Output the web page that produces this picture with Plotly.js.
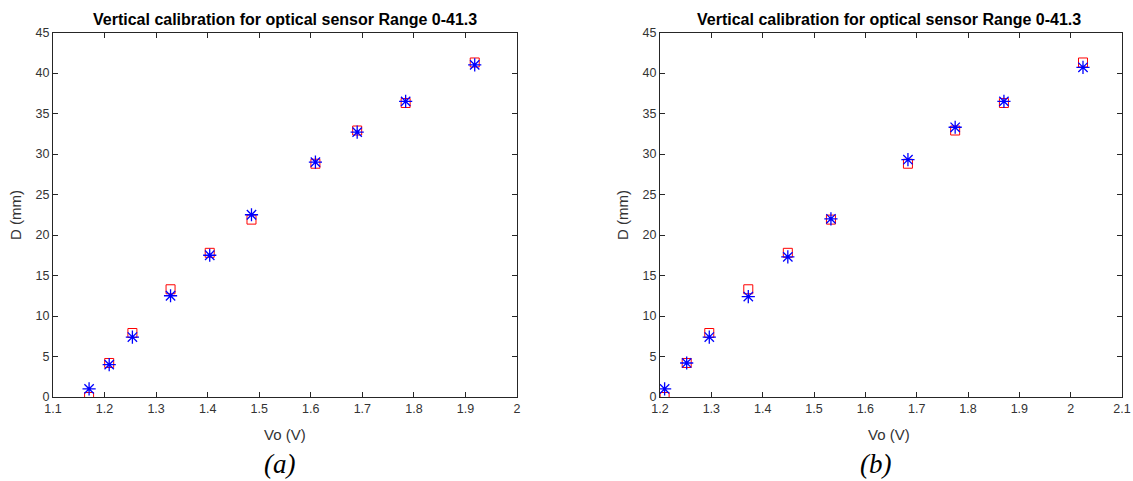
<!DOCTYPE html>
<html>
<head>
<meta charset="utf-8">
<script src="https://cdn.plot.ly/plotly-3.0.1.min.js"></script>
<style>html,body{margin:0;padding:0;background:#fff;}#chart{width:1133px;height:481px;}</style>
</head>
<body>
<div id="chart"></div>
<script>
// Panel (a)
const voA = [1.170, 1.209, 1.254, 1.328, 1.404, 1.485, 1.609, 1.690, 1.784, 1.918];
const refA = [0, 4.2, 7.9, 13.3, 17.8, 21.9, 28.8, 32.9, 36.3, 41.3];
const measA = [1.0, 4.0, 7.4, 12.5, 17.5, 22.5, 29.0, 32.7, 36.5, 41.0];
// Panel (b)
const voB = [1.209, 1.252, 1.296, 1.372, 1.449, 1.533, 1.683, 1.775, 1.870, 2.024];
const refB = [0, 4.2, 7.9, 13.3, 17.8, 21.9, 28.8, 32.9, 36.3, 41.3];
const measB = [1.0, 4.2, 7.4, 12.4, 17.3, 22.0, 29.3, 33.3, 36.5, 40.7];

const titleText = 'Vertical calibration for optical sensor Range 0-41.3';
const xLabel = 'Vo (V)';
const yLabel = 'D (mm)';
const captions = ['(a)', '(b)'];

const red = '#ff0000', blue = '#0000ff';
function sq(x, y, xa, ya) {
  return {x: x, y: y, xaxis: xa, yaxis: ya, type: 'scatter', mode: 'markers', showlegend: false,
    marker: {symbol: 'square-open', size: 9, color: red, line: {width: 1, color: red}}};
}
function ast(x, y, xa, ya) {
  return {x: x, y: y, xaxis: xa, yaxis: ya, type: 'scatter', mode: 'markers', showlegend: false,
    marker: {symbol: 'asterisk-open', size: 11, color: blue, line: {width: 1.3, color: blue}}};
}
const data = [
  sq(voA, refA, 'x', 'y'), ast(voA, measA, 'x', 'y'),
  sq(voB, refB, 'x2', 'y2'), ast(voB, measB, 'x2', 'y2')
];

const sans = 'Liberation Sans, Arial, sans-serif';
const tickFont = {family: sans, size: 12.5, color: '#333333'};
const labelFont = {family: sans, size: 15, color: '#333333'};
function xax(range, dom, anchor) {
  return {domain: dom, range: range, dtick: 0.1, tick0: 1.1, anchor: anchor,
    ticks: 'inside', ticklen: 5, tickcolor: '#262626', mirror: 'ticks', showline: true,
    linecolor: '#262626', linewidth: 1, showgrid: false, zeroline: false, tickfont: tickFont};
}
function yax(dom, anchor) {
  return {domain: dom, range: [0, 45], dtick: 5, anchor: anchor,
    ticks: 'inside', ticklen: 5, tickcolor: '#262626', mirror: 'ticks', showline: true,
    linecolor: '#262626', linewidth: 1, showgrid: false, zeroline: false, tickfont: tickFont};
}
const H = 481, W = 1133;
const yDom = [1 - 397 / H, 1 - 32.5 / H];
function ann(text, px, py, font, angle) {
  return {text: text, xref: 'paper', yref: 'paper', x: px / W, y: 1 - py / H, showarrow: false,
    xanchor: 'center', yanchor: 'middle', font: font, textangle: angle || 0};
}
const titleFont = {family: sans, size: 16, color: '#000'};
const capFont = {family: 'Liberation Serif, Times New Roman, serif', size: 27, color: '#000'};
const layout = {
  width: W, height: H,
  margin: {l: 0, r: 0, t: 0, b: 0},
  paper_bgcolor: '#fff', plot_bgcolor: '#fff',
  xaxis: xax([1.1, 2.0], [53 / W, 517 / W], 'y'),
  yaxis: yax(yDom, 'x'),
  xaxis2: xax([1.2, 2.1], [660 / W, 1122 / W], 'y2'),
  yaxis2: yax(yDom, 'x2'),
  annotations: [
    ann('<b>' + titleText + '</b>', 285, 19, titleFont),
    ann('<b>' + titleText + '</b>', 889, 19, titleFont),
    ann(xLabel, 285, 434, labelFont),
    ann(xLabel, 889, 434, labelFont),
    ann(yLabel, 15, 215, labelFont, -90),
    ann(yLabel, 622, 215, labelFont, -90),
    ann('<i>' + captions[0] + '</i>', 279, 464, capFont),
    ann('<i>' + captions[1] + '</i>', 875, 464, capFont)
  ]
};
Plotly.newPlot('chart', data, layout, {staticPlot: true, displayModeBar: false});
</script>
</body>
</html>
